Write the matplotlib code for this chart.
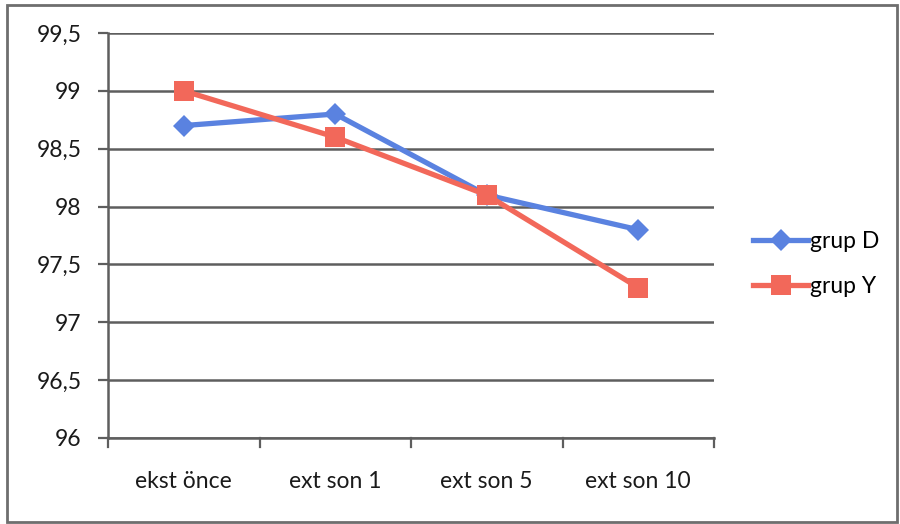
import matplotlib
matplotlib.use("Agg")
from matplotlib import pyplot as plt
from matplotlib.patches import Rectangle

plt.rcParams['font.family'] = ['Lato', 'DejaVu Sans']

# measurement points and the two groups
categories = ["ekst önce", "ext son 1", "ext son 5", "ext son 10"]
grup_d = [98.7, 98.8, 98.1, 97.8]
grup_y = [99.0, 98.6, 98.1, 97.3]
y_ticks = [96, 96.5, 97, 97.5, 98, 98.5, 99, 99.5]
y_labels = ["96", "96,5", "97", "97,5", "98", "98,5", "99", "99,5"]

blue = "#5a82e0"
red = "#f2685a"
grid_col = "#5e5e5e"
fs = 16.5

fig = plt.figure(figsize=(9, 5.24), dpi=100)
ax = fig.add_axes([108 / 900, 1 - 438 / 524, (714 - 108) / 900, (438 - 33) / 524])

x = list(range(len(categories)))
ax.plot(x, grup_d, color=blue, lw=3.8, marker="D", markersize=11,
        markeredgewidth=0, label="grup D", zorder=3)
ax.plot(x, grup_y, color=red, lw=3.8, marker="s", markersize=15,
        markeredgewidth=0, label="grup Y", zorder=4)

ax.set_xlim(-0.5, len(categories) - 0.5)
ax.set_ylim(96, 99.5)
ax.set_yticks(y_ticks)
ax.set_yticklabels(y_labels, fontsize=fs, color="#1a1a1a")
ax.set_xticks(x)
ax.set_xticklabels(categories, fontsize=fs, color="#1a1a1a")
ax.tick_params(axis="x", length=0, pad=24)
ax.tick_params(axis="y", length=7, width=1.6, color=grid_col, pad=12)

# category separator ticks below the axis
for b in [-0.5, 0.5, 1.5, 2.5, 3.5]:
    ax.plot([b, b], [96, 95.92], color=grid_col, lw=1.6, clip_on=False)

ax.yaxis.grid(True, color=grid_col, lw=1.8)
ax.set_axisbelow(True)
for side in ["top", "right"]:
    ax.spines[side].set_visible(False)
ax.spines["left"].set_color(grid_col)
ax.spines["left"].set_linewidth(1.8)
ax.spines["bottom"].set_color(grid_col)
ax.spines["bottom"].set_linewidth(1.8)

ax.legend(loc="center left", bbox_to_anchor=(1.05, 0.43), frameon=False,
          fontsize=fs, handlelength=2.4, handletextpad=0.05, labelspacing=1.05,
          borderaxespad=0)

# frame around the whole chart
fig.patches.append(Rectangle((7 / 900, 2 / 524), 890 / 900, 517 / 524,
                             transform=fig.transFigure, fill=False,
                             edgecolor="#6e6e6e", lw=2))

fig.savefig("out.png", dpi=100)
